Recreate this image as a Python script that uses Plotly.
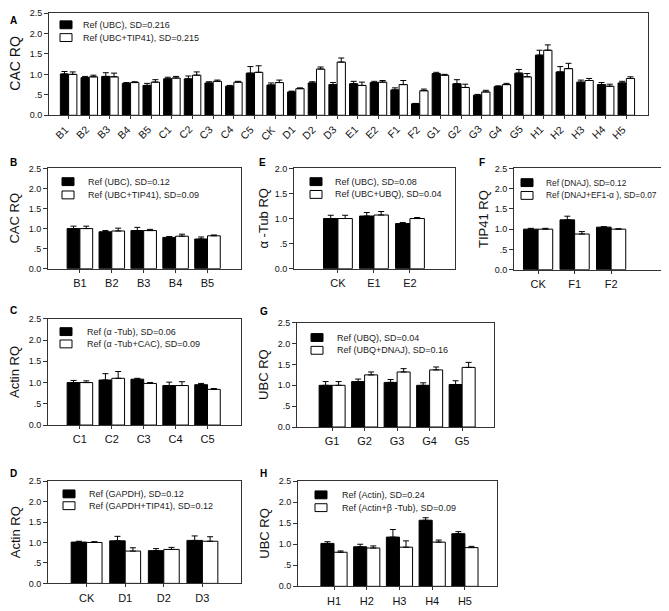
import plotly.graph_objects as go

# page is drawn with the browser's 8px body margin, so the figure is 8px
# smaller and all positions below (page pixels) are
# shifted by OFF
OFF = 8
W, H = 669 - OFF, 611 - OFF
FONT = "Liberation Sans, Arial, sans-serif"


def px(p):
    return max(p - OFF, 0) / W


def py(p):
    return 1 - max(p - OFF, 0) / H


# ---- data ----
cats_a = ["B1", "B2", "B3", "B4", "B5", "C1", "C2", "C3", "C4", "C5", "CK",
          "D1", "D2", "D3", "E1", "E2", "F1", "F2", "G1", "G2", "G3", "G4", "G5",
          "H1", "H2", "H3", "H4", "H5"]
ref_a = [1.01, 0.92, 0.95, 0.78, 0.73, 0.89, 0.89, 0.79, 0.71, 1.03, 0.74,
         0.57, 0.79, 0.75, 0.77, 0.80, 0.62, 0.28, 1.02, 0.77, 0.49, 0.70, 1.03,
         1.47, 1.06, 0.81, 0.75, 0.79]
ref_a_err = [0.06, 0.03, 0.09, 0.02, 0.05, 0.04, 0.07, 0.03, 0.02, 0.16, 0.05,
             0.02, 0.03, 0.05, 0.06, 0.03, 0.05, 0.01, 0.03, 0.10, 0.02, 0.02, 0.09,
             0.12, 0.13, 0.05, 0.05, 0.04]
comb_a = [1.00, 0.94, 0.94, 0.80, 0.81, 0.91, 0.98, 0.83, 0.81, 1.05, 0.80,
          0.65, 1.13, 1.30, 0.73, 0.81, 0.75, 0.60, 0.98, 0.68, 0.57, 0.75, 0.94,
          1.59, 1.14, 0.85, 0.71, 0.90]
comb_a_err = [0.06, 0.04, 0.09, 0.02, 0.06, 0.04, 0.08, 0.03, 0.02, 0.16, 0.06,
              0.02, 0.05, 0.10, 0.08, 0.04, 0.10, 0.04, 0.02, 0.08, 0.04, 0.03, 0.08,
              0.13, 0.13, 0.05, 0.05, 0.04]

cats_b = ["B1", "B2", "B3", "B4", "B5"]
ref_b = [1.00, 0.92, 0.95, 0.78, 0.74]
ref_b_err = [0.06, 0.03, 0.08, 0.02, 0.05]
comb_b = [1.00, 0.94, 0.95, 0.81, 0.82]
comb_b_err = [0.06, 0.07, 0.03, 0.05, 0.02]

cats_c = ["C1", "C2", "C3", "C4", "C5"]
ref_c = [1.00, 1.06, 1.08, 0.93, 0.95]
ref_c_err = [0.05, 0.15, 0.02, 0.08, 0.03]
comb_c = [1.00, 1.10, 0.98, 0.93, 0.84]
comb_c_err = [0.04, 0.16, 0.02, 0.09, 0.02]

cats_d = ["CK", "D1", "D2", "D3"]
ref_d = [1.01, 1.04, 0.80, 1.05]
ref_d_err = [0.02, 0.11, 0.05, 0.11]
comb_d = [1.00, 0.79, 0.83, 1.03]
comb_d_err = [0.02, 0.08, 0.05, 0.11]

cats_e = ["CK", "E1", "E2"]
ref_e = [1.00, 1.05, 0.90]
ref_e_err = [0.065, 0.07, 0.02]
comb_e = [1.00, 1.07, 1.00]
comb_e_err = [0.065, 0.07, 0.02]

cats_f = ["CK", "F1", "F2"]
ref_f = [1.00, 1.23, 1.05]
ref_f_err = [0.02, 0.09, 0.01]
comb_f = [1.00, 0.88, 1.00]
comb_f_err = [0.02, 0.06, 0.01]

cats_g = ["G1", "G2", "G3", "G4", "G5"]
ref_g = [1.00, 1.09, 1.07, 1.00, 1.02]
ref_g_err = [0.09, 0.06, 0.07, 0.06, 0.09]
comb_g = [1.00, 1.25, 1.32, 1.37, 1.43]
comb_g_err = [0.09, 0.07, 0.08, 0.07, 0.12]

cats_h = ["H1", "H2", "H3", "H4", "H5"]
ref_h = [1.02, 0.94, 1.17, 1.57, 1.25]
ref_h_err = [0.04, 0.06, 0.18, 0.06, 0.05]
comb_h = [0.81, 0.91, 0.93, 1.05, 0.92]
comb_h_err = [0.03, 0.05, 0.15, 0.05, 0.03]

yticks = [0, 0.5, 1.0, 1.5, 2.0, 2.5]
yticklabels = ["0.0", ".5", "1.0", "1.5", "2.0", "2.5"]

# panel: letter, cats, ref, ref_err, comb, comb_err, names, ytitle, ymax,
#        x px span, y px span, x range,
#        legend (square left, row1 y, row2 y, text x, font size),
#        letter pos, y-title x
panels = [
    ("A", cats_a, ref_a, ref_a_err, comb_a, comb_a_err,
     ["Ref (UBC), SD=0.216", "Ref (UBC+TIP41), SD=0.215"], "CAC RQ", 2.5,
     (49, 648), (7, 112), (-0.95, 28.05), (60, 20, 33, 81, 9), (5, 8), 15),
    ("B", cats_b, ref_b, ref_b_err, comb_b, comb_b_err,
     ["Ref (UBC), SD=0.12", "Ref (UBC+TIP41), SD=0.09"], "CAC RQ", 2.5,
     (48, 241), (166, 268), (-1.0, 5.05), (62, 179.5, 193, 86, 9), (5, 160), 15),
    ("E", cats_e, ref_e, ref_e_err, comb_e, comb_e_err,
     ["Ref (UBC), SD=0.08", "Ref (UBC+UBQ), SD=0.04"], "α -Tub RQ", 2.0,
     (294, 455), (166, 268), (-1.22, 3.25), (310, 179.5, 192.5, 333, 9),
     (257, 160), 264),
    ("F", cats_f, ref_f, ref_f_err, comb_f, comb_f_err,
     ["Ref (DNAJ), SD=0.12", "Ref (DNAJ+EF1-α ), SD=0.07"], "TIP41 RQ", 2.5,
     (514, 667), (166, 269), (-0.66, 3.53), (521, 180.5, 193.5, 544, 8.4),
     (477, 160), 483),
    ("C", cats_c, ref_c, ref_c_err, comb_c, comb_c_err,
     ["Ref (α -Tub), SD=0.06", "Ref (α -Tub+CAC), SD=0.09"], "Actin RQ", 2.5,
     (48, 241), (319, 427), (-1.0, 5.05), (60, 332, 344.5, 85, 9), (5, 311), 15),
    ("G", cats_g, ref_g, ref_g_err, comb_g, comb_g_err,
     ["Ref (UBQ), SD=0.04", "Ref (UBQ+DNAJ), SD=0.16"], "UBC RQ", 2.5,
     (297, 494), (323, 429), (-1.08, 4.98), (311, 338, 351, 335, 9),
     (258, 312), 264),
    ("D", cats_d, ref_d, ref_d_err, comb_d, comb_d_err,
     ["Ref (GAPDH), SD=0.12", "Ref (GAPDH+TIP41), SD=0.12"], "Actin RQ", 2.5,
     (48, 241), (484, 588), (-1.0, 4.0), (63, 497, 509, 87, 9), (5, 476), 15),
    ("H", cats_h, ref_h, ref_h_err, comb_h, comb_h_err,
     ["Ref (Actin), SD=0.24", "Ref (Actin+β -Tub), SD=0.09"], "UBC RQ", 2.5,
     (298, 497), (484, 591), (-1.1, 4.98), (315, 498, 511, 340, 9),
     (258, 476), 265),
]

fig = go.Figure()
annotations = []
shapes = []
layout = {}

for i, (letter, cats, r, re, c, ce, names, ytitle, ymax,
        xpx, ypx, xr, lg, tpos, tx_title) in enumerate(panels):
    n = "" if i == 0 else str(i + 1)
    xa, ya = "x" + n, "y" + n
    fig.add_trace(go.Bar(
        x=cats, y=r, name=names[0], xaxis=xa, yaxis=ya, showlegend=False,
        marker=dict(color="black", line=dict(color="black", width=1)),
        error_y=dict(type="data", array=re, arrayminus=[0] * len(re),
                     symmetric=False, color="black", thickness=1, width=3),
    ))
    fig.add_trace(go.Bar(
        x=cats, y=c, name=names[1], xaxis=xa, yaxis=ya, showlegend=False,
        marker=dict(color="white", line=dict(color="black", width=1)),
        error_y=dict(type="data", array=ce, arrayminus=[0] * len(ce),
                     symmetric=False, color="black", thickness=1, width=3),
    ))
    tv = [t for t in yticks if t <= ymax]
    layout["xaxis" + n] = dict(
        domain=[px(xpx[0]), px(xpx[1])], anchor=ya, type="category",
        range=list(xr), showline=True, mirror=True, linecolor="#333",
        linewidth=1, ticks="outside", ticklen=3, tickcolor="#333",
        showticklabels=(letter != "A"), ticklabelstandoff=1,
        tickfont=dict(size=11, color="#111"), fixedrange=True,
    )
    layout["yaxis" + n] = dict(
        domain=[py(ypx[1]), py(ypx[0])], anchor=xa,
        range=[0, ymax], tickvals=tv, ticktext=yticklabels[:len(tv)],
        showline=True, mirror=True, linecolor="#333", linewidth=1,
        ticks="outside", ticklen=4, tickcolor="#333", showgrid=False,
        zeroline=False, tickfont=dict(size=9, color="#111"),
        fixedrange=True,
    )
    # y title
    annotations.append(dict(
        text=ytitle, x=px(tx_title), y=py((ypx[0] + ypx[1]) / 2),
        xref="paper", yref="paper", xanchor="center", yanchor="middle",
        textangle=-90, showarrow=False,
        font=dict(size=14 if letter == "A" else 13, color="#111"),
    ))
    # legend: swatch + label for each series
    sq_left, cy1, cy2, tx, lfs = lg
    for cy, fill, label in ((cy1, "black", names[0]), (cy2, "white", names[1])):
        shapes.append(dict(
            type="rect", xref="paper", yref="paper",
            x0=px(sq_left), x1=px(sq_left + 12),
            y0=py(cy + 4), y1=py(cy - 4),
            fillcolor=fill, line=dict(color="black", width=1),
        ))
        annotations.append(dict(
            text=label, x=px(tx), y=py(cy), xref="paper", yref="paper",
            xanchor="left", yanchor="middle", showarrow=False,
            font=dict(size=lfs, color="#222"),
        ))
    annotations.append(dict(
        text="<b>" + letter + "</b>", x=px(tpos[0]), y=py(tpos[1]),
        xref="paper", yref="paper", xanchor="left",
        yanchor="top" if letter == "A" else "middle",
        showarrow=False, font=dict(size=10, color="black"),
    ))

# slanted category labels under panel A
for cat in cats_a:
    annotations.append(dict(
        text=cat, x=cat, xref="x", y=py(117), yref="paper",
        xanchor="right", yanchor="top", xshift=5, textangle=-45,
        showarrow=False, font=dict(size=10.5, color="#111"),
    ))

fig.update_layout(
    width=W, height=H, margin=dict(l=0, r=0, t=0, b=0),
    paper_bgcolor="white", plot_bgcolor="white",
    font=dict(family=FONT), barmode="group", bargap=0.2, bargroupgap=0,
    annotations=annotations, shapes=shapes, **layout,
)

fig.write_html("out.html")
